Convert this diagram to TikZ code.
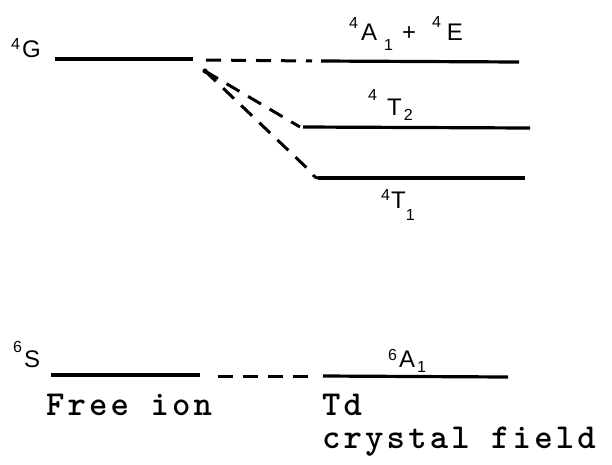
\documentclass[tikz,border=0pt]{standalone}
\usepackage{fontspec}
\newfontfamily\labfont{Liberation Sans}
\newfontfamily\monofont{lmmonolt10-bold.otf}[LetterSpace=9]
\newcommand\hup[2]{\raisebox{#1}{\fontsize{16}{16}\selectfont #2}}
\begin{document}
\begin{tikzpicture}[x=1pt,y=-1pt,
  lvl/.style={line width=3.2pt},
  conn/.style={line width=3pt, dash pattern=on 15pt off 10pt},
  lab/.style={inner sep=0pt, anchor=base west, font=\labfont\fontsize{24}{24}\selectfont},
  mlab/.style={inner sep=0pt, anchor=base west, font=\monofont\fontsize{35}{35}\selectfont}]
\useasboundingbox (0,0) rectangle (612,464);
% level end points
\coordinate (g1) at (55,59);   \coordinate (g2) at (193,59);
\coordinate (d1) at (206,60);  \coordinate (d2) at (312,61);
\coordinate (a1) at (321,61);  \coordinate (a2) at (519,62);
\coordinate (t2a) at (303,127); \coordinate (t2b) at (530,128);
\coordinate (t1a) at (318,178); \coordinate (t1b) at (525,178);
\coordinate (src) at (205,71);
\coordinate (s1) at (51,375);  \coordinate (s2) at (200,375);
\coordinate (e1) at (218,376); \coordinate (e2) at (314,376);
\coordinate (f1) at (323,376); \coordinate (f2) at (508,377);
% levels
\draw[lvl] (g1) -- (g2);
\draw[lvl] (a1) -- (a2);
\draw[lvl] (t2a) -- (t2b);
\draw[lvl] (t1a) -- (t1b);
\draw[lvl] (s1) -- (s2);
\draw[lvl] (f1) -- (f2);
% correlation lines
\draw[conn] (d1) -- (d2);
\draw[conn] (e1) -- (e2);
\draw[conn] (src) -- ([xshift=-3pt]t2a);
\draw[conn] (src) -- (309,170) .. controls (313,175) and (315,178) .. (t1a);
\fill (src) circle (2.6pt);
% labels
\node[lab] (lG) at (11,57) {\hup{8pt}{4}\hspace{2pt}G};
\node[lab] (lAE) at (349,40) {\hup{12pt}{4}\hspace{3pt}A\hspace{7pt}\hup{-10pt}{1}\hspace{9pt}+\hspace{16pt}\hup{13pt}{4}\hspace{6pt}E};
\node[lab] (lT2) at (368,115) {\hup{15pt}{4}\hspace{10pt}T\hspace{2pt}\hup{-5pt}{2}};
\node[lab] (lT1) at (381,208) {\hup{8pt}{4}\hspace{1pt}T\hup{-12pt}{1}};
\node[lab] (lS) at (13,367) {\hup{15pt}{6}\hspace{2pt}S};
\node[lab] (lA1) at (388,367) {\hup{7pt}{6}\hspace{2pt}A\hspace{2pt}\hup{-5pt}{1}};
\node[mlab] (free) at (46,415) {Free ion};
\node[mlab] (td) at (322,415) {Td};
\node[mlab] (cf) at (322,448) {crystal field};
\end{tikzpicture}
\end{document}
